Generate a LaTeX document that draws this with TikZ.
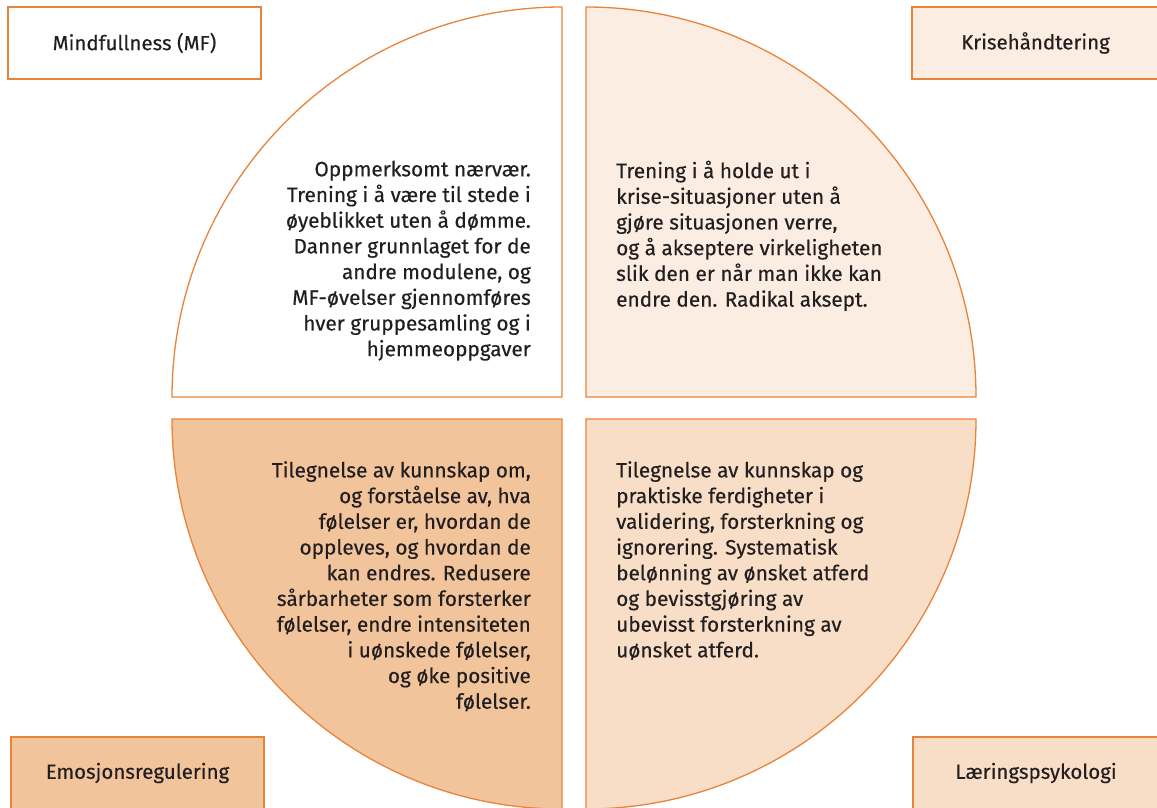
\documentclass[tikz,border=0pt]{standalone}
\usepackage{fontspec}
\setmainfont{Fira Sans}[FakeBold=0.35]
\definecolor{edge}{HTML}{E8843A}
\definecolor{fillTR}{HTML}{FBEDE1}
\definecolor{fillBL}{HTML}{F2C49C}
\definecolor{fillBR}{HTML}{F8DEC7}
\definecolor{ink}{HTML}{231F20}
\begin{document}
\begin{tikzpicture}[x=1pt,y=1pt,
  quad/.style={draw=edge, line width=1.3pt, line join=miter},
  labelbox/.style={draw=edge, line width=1.3pt, minimum height=72pt, inner sep=0pt, text=ink, font=\fontsize{20.5}{24}\selectfont},
  body/.style={inner sep=0pt, text=ink, font=\fontsize{20.8}{25.7}\selectfont}]
\useasboundingbox (0,0) rectangle (1157,807);
\fill[white] (0,0) rectangle (1157,807);
% quadrants
\draw[quad, fill=white] (562,410) -- (172,410) arc[start angle=180, end angle=90, radius=390pt] -- cycle;
\draw[quad, fill=fillTR] (586,410) -- (586,800) arc[start angle=90, end angle=0, radius=390pt] -- cycle;
\draw[quad, fill=fillBL] (562,388) -- (172,388) arc[start angle=180, end angle=270, radius=390pt] -- cycle;
\draw[quad, fill=fillBR] (586,388) -- (976,388) arc[start angle=0, end angle=-90, radius=390pt] -- cycle;
% labels
\node[labelbox, fill=white, minimum width=253pt] (mf) at (134.5,764) {\raisebox{1pt}{Mindfullness (MF)}};
\node[labelbox, fill=fillTR, minimum width=247pt] (kh) at (1035.5,764) {\raisebox{1pt}{Krisehåndtering}};
\node[labelbox, fill=fillBL, minimum width=253pt] (er) at (137.5,34) {Emosjonsregulering};
\node[labelbox, fill=fillBR, minimum width=246pt] (lp) at (1036,34) {Læringspsykologi};
% body texts
\node[body, anchor=north east, align=right] (mftext) at (531,646.5) {Oppmerksomt nærvær.\\Trening i å være til stede i\\øyeblikket uten å dømme.\\Danner grunnlaget for de\\andre modulene, og\\MF-øvelser gjennomføres\\hver gruppesamling og i\\hjemmeoppgaver};
\node[body, anchor=north west, align=left] (khtext) at (616,646.5) {Trening i å holde ut i\\krise-situasjoner uten å\\gjøre situasjonen verre,\\og å akseptere virkeligheten\\slik den er når man ikke kan\\endre den. Radikal aksept.};
\node[body, anchor=north east, align=right] (ertext) at (531,346) {Tilegnelse av kunnskap om,\\og forståelse av, hva\\følelser er, hvordan de\\oppleves, og hvordan de\\kan endres. Redusere\\sårbarheter som forsterker\\følelser, endre intensiteten\\i uønskede følelser,\\og øke positive\\følelser.};
\node[body, anchor=north west, align=left] (lptext) at (616,346) {Tilegnelse av kunnskap og\\praktiske ferdigheter i\\validering, forsterkning og\\ignorering. Systematisk\\belønning av ønsket atferd\\og bevisstgjøring av\\ubevisst forsterkning av\\uønsket atferd.};
\end{tikzpicture}
\end{document}
